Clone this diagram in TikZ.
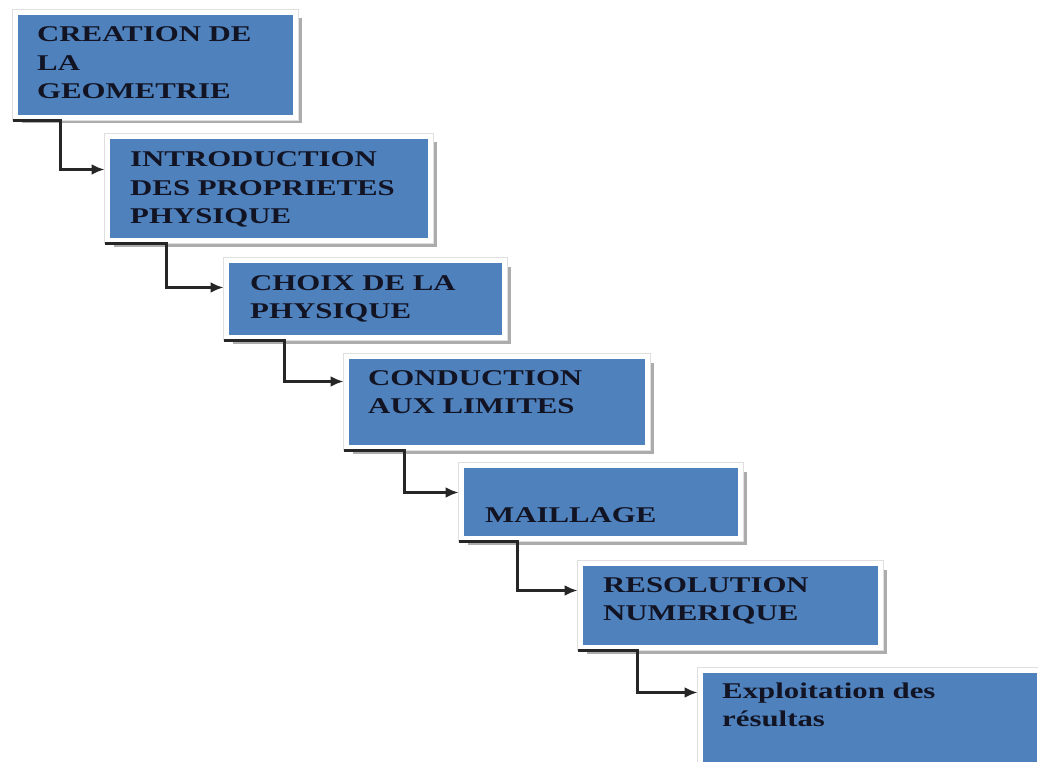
\documentclass[tikz,border=0pt]{standalone}
\usepackage{graphicx}
\usepackage{fontspec}
\setmainfont{Liberation Serif}
\usetikzlibrary{arrows.meta}
\usetikzlibrary{shadows}
\definecolor{stepblue}{RGB}{79,129,189}
\definecolor{stepink}{RGB}{18,20,36}
\newcommand{\steplines}[1]{\scalebox{1.37}[1]{\begin{tabular}[t]{@{}l@{}}#1\end{tabular}}}

\begin{document}
\begin{tikzpicture}[x=1pt, y=-1pt,
    stepbox/.style={rectangle, fill=stepblue, inner sep=0pt, outer sep=3pt,
        drop shadow={shadow xshift=6pt, shadow yshift=-6pt, fill=gray!65, opacity=1},
        preaction={draw=gray!25, line width=7pt},
        draw=white, line width=5pt},
    steptext/.style={anchor=base west, inner sep=0pt, text=stepink,
        font=\fontsize{22.5}{28.5}\selectfont\bfseries},
    link/.style={draw=black!85, line width=2.5pt, -{Latex[length=13pt, width=11pt]}}]
        \useasboundingbox (0,0) rectangle (1038,762);
        \node[stepbox, minimum width=280pt, minimum height=105pt] (geo) at (155.5,65) {};
        \node[stepbox, minimum width=323pt, minimum height=104pt] (prop) at (269,188.5) {};
        \node[stepbox, minimum width=278pt, minimum height=77pt] (phys) at (365.5,299) {};
        \node[stepbox, minimum width=301pt, minimum height=91pt] (cond) at (497,402) {};
        \node[stepbox, minimum width=279pt, minimum height=73pt] (mail) at (601,502) {};
        \node[stepbox, minimum width=300pt, minimum height=84pt] (reso) at (730.5,605.5) {};
        \node[stepbox, minimum width=339pt, minimum height=107pt] (expl) at (870,724) {};
        \node[steptext] (geotxt) at (37,42) {\steplines{CREATION DE\\LA\\GEOMETRIE}};
        \node[steptext] (proptxt) at (130,167) {\steplines{INTRODUCTION\\DES PROPRIETES\\PHYSIQUE}};
        \node[steptext] (phystxt) at (250,290) {\steplines{CHOIX DE LA\\PHYSIQUE}};
        \node[steptext] (condtxt) at (368,385) {\steplines{CONDUCTION\\AUX LIMITES}};
        \node[steptext] (mailtxt) at (485,522) {\steplines{MAILLAGE}};
        \node[steptext] (resotxt) at (603,592) {\steplines{RESOLUTION\\NUMERIQUE}};
        \node[steptext] (expltxt) at (722,698) {\steplines{Exploitation des\\résultas}};
        \draw[link] (geo.south west) -- ++(48,0) |- ([yshift=-36pt]prop.north west);
        \draw[link] (prop.south west) -- ++(62,0) |- ([yshift=-30pt]phys.north west);
        \draw[link] (phys.south west) -- ++(61,0) |- ([yshift=-28pt]cond.north west);
        \draw[link] (cond.south west) -- ++(61,0) |- ([yshift=-30pt]mail.north west);
        \draw[link] (mail.south west) -- ++(59,0) |- ([yshift=-30pt]reso.north west);
        \draw[link] (reso.south west) -- ++(60,0) |- ([yshift=-25pt]expl.north west);
    \end{tikzpicture}
\end{document}
